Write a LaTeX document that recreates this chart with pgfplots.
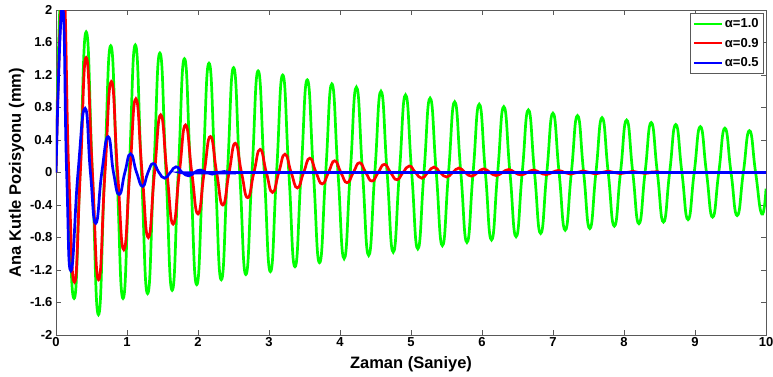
\documentclass[border=0pt]{standalone}
\usepackage{fontspec}
\setmainfont{Liberation Sans}
\usepackage{pgfplots}
\pgfplotsset{compat=1.18}
\definecolor{frame}{gray}{0.35}
\begin{document}
\begin{tikzpicture}
\begin{axis}[
  width=710pt, height=325pt, scale only axis,
  xmin=0, xmax=10, ymin=-2, ymax=2,
  xtick={0,1,2,3,4,5,6,7,8,9,10},
  xticklabels={0,1,2,3,4,5,6,7,8,9,10},
  ytick={-2,-1.6,-1.2,-0.8,-0.4,0,0.4,0.8,1.2,1.6,2},
  yticklabels={-2,-1.6,-1.2,-0.8,-0.4,0,0.4,0.8,1.2,1.6,2},
  tick align=inside, xtick pos=both, ytick pos=both,
  major tick length=5pt,
  tick style={color=frame, line width=0.8pt},
  axis line style={frame, line width=0.8pt},
  tick label style={font=\fontsize{13}{13}\selectfont\bfseries},
  xticklabel style={yshift=1pt},
  xlabel={Zaman (Saniye)}, ylabel={Ana Kutle Pozisyonu (mm)},
  label style={font=\fontsize{16.5}{16.5}\selectfont\bfseries},
  xlabel style={yshift=-3pt},
  ylabel style={yshift=-1pt},
  legend style={at={(1,1)}, anchor=north east, xshift=-2pt, yshift=-3pt,
    font=\fontsize{13}{13}\selectfont\bfseries, draw=frame, line width=0.8pt,
    inner sep=3pt, row sep=5pt},
  legend cell align=left,
  legend image code/.code={\draw[#1, line width=2pt] (0pt,0pt) -- (28pt,0pt);},
]
\addplot[color={rgb,1:red,0;green,1;blue,0}, line width=2.7pt, smooth, tension=0.9] coordinates {
(0,0) (0.085,2.4) (0.17,0) (0.255,-1.55) (0.3385,0) (0.425,1.73) (0.5115,0) (0.598,-1.75) (0.6845,0) (0.771,1.56) (0.8575,0) (0.944,-1.55) (1.0305,0) (1.117,1.57) (1.2035,0) (1.29,-1.49) (1.3765,0) (1.463,1.47) (1.5495,0) (1.636,-1.45) (1.7225,0) (1.809,1.40) (1.8955,0) (1.982,-1.38) (2.0685,0) (2.155,1.345) (2.2415,0) (2.328,-1.32) (2.4145,0) (2.501,1.29) (2.5875,0) (2.674,-1.255) (2.7605,0) (2.847,1.25) (2.9335,0) (3.02,-1.22) (3.1065,0) (3.193,1.20) (3.2795,0) (3.366,-1.16) (3.4525,0) (3.539,1.14) (3.6255,0) (3.712,-1.11) (3.7985,0) (3.885,1.09) (3.9715,0) (4.058,-1.06) (4.1445,0) (4.231,1.05) (4.3175,0) (4.404,-1.02) (4.4905,0) (4.577,1.00) (4.6635,0) (4.75,-0.98) (4.8365,0) (4.923,0.955) (5.0095,0) (5.096,-0.94) (5.1825,0) (5.269,0.915) (5.3555,0) (5.442,-0.90) (5.5285,0) (5.615,0.87) (5.7015,0) (5.788,-0.86) (5.8745,0) (5.961,0.84) (6.0475,0) (6.134,-0.83) (6.2205,0) (6.307,0.81) (6.3935,0) (6.48,-0.79) (6.5665,0) (6.653,0.77) (6.7395,0) (6.826,-0.75) (6.9125,0) (6.999,0.73) (7.0855,0) (7.172,-0.71) (7.2585,0) (7.345,0.70) (7.4315,0) (7.518,-0.69) (7.6045,0) (7.691,0.675) (7.7775,0) (7.864,-0.66) (7.9505,0) (8.037,0.645) (8.1235,0) (8.21,-0.63) (8.2965,0) (8.383,0.615) (8.4695,0) (8.556,-0.61) (8.6425,0) (8.729,0.59) (8.8155,0) (8.902,-0.58) (8.9885,0) (9.075,0.565) (9.1615,0) (9.248,-0.55) (9.3345,0) (9.421,0.545) (9.5075,0) (9.594,-0.53) (9.6805,0) (9.767,0.515) (9.8535,0) (9.94,-0.51) (10,-0.2)
};
\addlegendentry{α=1.0}
\addplot[color={rgb,1:red,1;green,0;blue,0}, line width=2.7pt, smooth, tension=0.9] coordinates {
(0,0) (0.1,2.3) (0.18,0) (0.26,-1.35) (0.3425,0) (0.425,1.415) (0.5125,0) (0.60,-1.32) (0.69,0) (0.78,1.12) (0.8675,0) (0.955,-0.95) (1.04,0) (1.125,0.907) (1.2125,0) (1.30,-0.80) (1.3875,0) (1.475,0.71) (1.5625,0) (1.65,-0.635) (1.7375,0) (1.825,0.585) (1.9125,0) (2.00,-0.51) (2.0875,0) (2.175,0.443) (2.2625,0) (2.35,-0.40) (2.4375,0) (2.525,0.36) (2.6125,0) (2.70,-0.31) (2.7875,0) (2.875,0.285) (2.9625,0) (3.05,-0.245) (3.1375,0) (3.225,0.225) (3.3125,0) (3.40,-0.19) (3.4875,0) (3.575,0.176) (3.6625,0) (3.75,-0.14) (3.8375,0) (3.925,0.144) (4.0125,0) (4.10,-0.125) (4.1875,0) (4.275,0.12) (4.3625,0) (4.45,-0.105) (4.5375,0) (4.625,0.10) (4.7125,0) (4.80,-0.088) (4.8875,0) (4.975,0.08) (5.0625,0) (5.15,-0.07) (5.2375,0) (5.325,0.067) (5.4125,0) (5.50,-0.055) (5.5875,0) (5.675,0.055) (5.7625,0) (5.85,-0.045) (5.9375,0) (6.025,0.045) (6.1125,0) (6.20,-0.037) (6.2875,0) (6.375,0.037) (6.4625,0) (6.55,-0.03) (6.6375,0) (6.725,0.03) (6.8125,0) (6.90,-0.025) (6.9875,0) (7.075,0.025) (7.1625,0) (7.25,-0.02) (7.3375,0) (7.425,0.02) (7.5125,0) (7.60,-0.017) (7.6875,0) (7.775,0.017) (7.8625,0) (7.95,-0.014) (8.0375,0) (8.125,0.014) (8.2125,0) (8.30,-0.011) (8.3875,0) (8.475,0.01) (8.5625,0) (10,0)
};
\addlegendentry{α=0.9}
\addplot[color={rgb,1:red,0;green,0;blue,1}, line width=2.7pt, smooth, tension=0.9] coordinates {
(0,0) (0.09,2.05) (0.15,0) (0.21,-1.21) (0.31,0) (0.41,0.79) (0.485,0) (0.56,-0.625) (0.645,0) (0.735,0.44) (0.81,0) (0.89,-0.27) (0.97,0) (1.05,0.23) (1.135,0) (1.22,-0.17) (1.295,0) (1.37,0.11) (1.45,0) (1.53,-0.07) (1.61,0) (1.69,0.07) (1.78,0) (1.87,-0.04) (1.95,0) (2.03,0.03) (2.115,0) (2.20,-0.02) (2.285,0) (2.37,0.012) (2.45,0) (2.53,-0.008) (2.6,0) (10,0)
};
\addlegendentry{α=0.5}
\end{axis}
\pgfresetboundingbox
\path ([xshift=-56pt,yshift=-41pt]current axis.south west) rectangle ([xshift=7pt,yshift=10pt]current axis.north east);
\end{tikzpicture}
\end{document}
